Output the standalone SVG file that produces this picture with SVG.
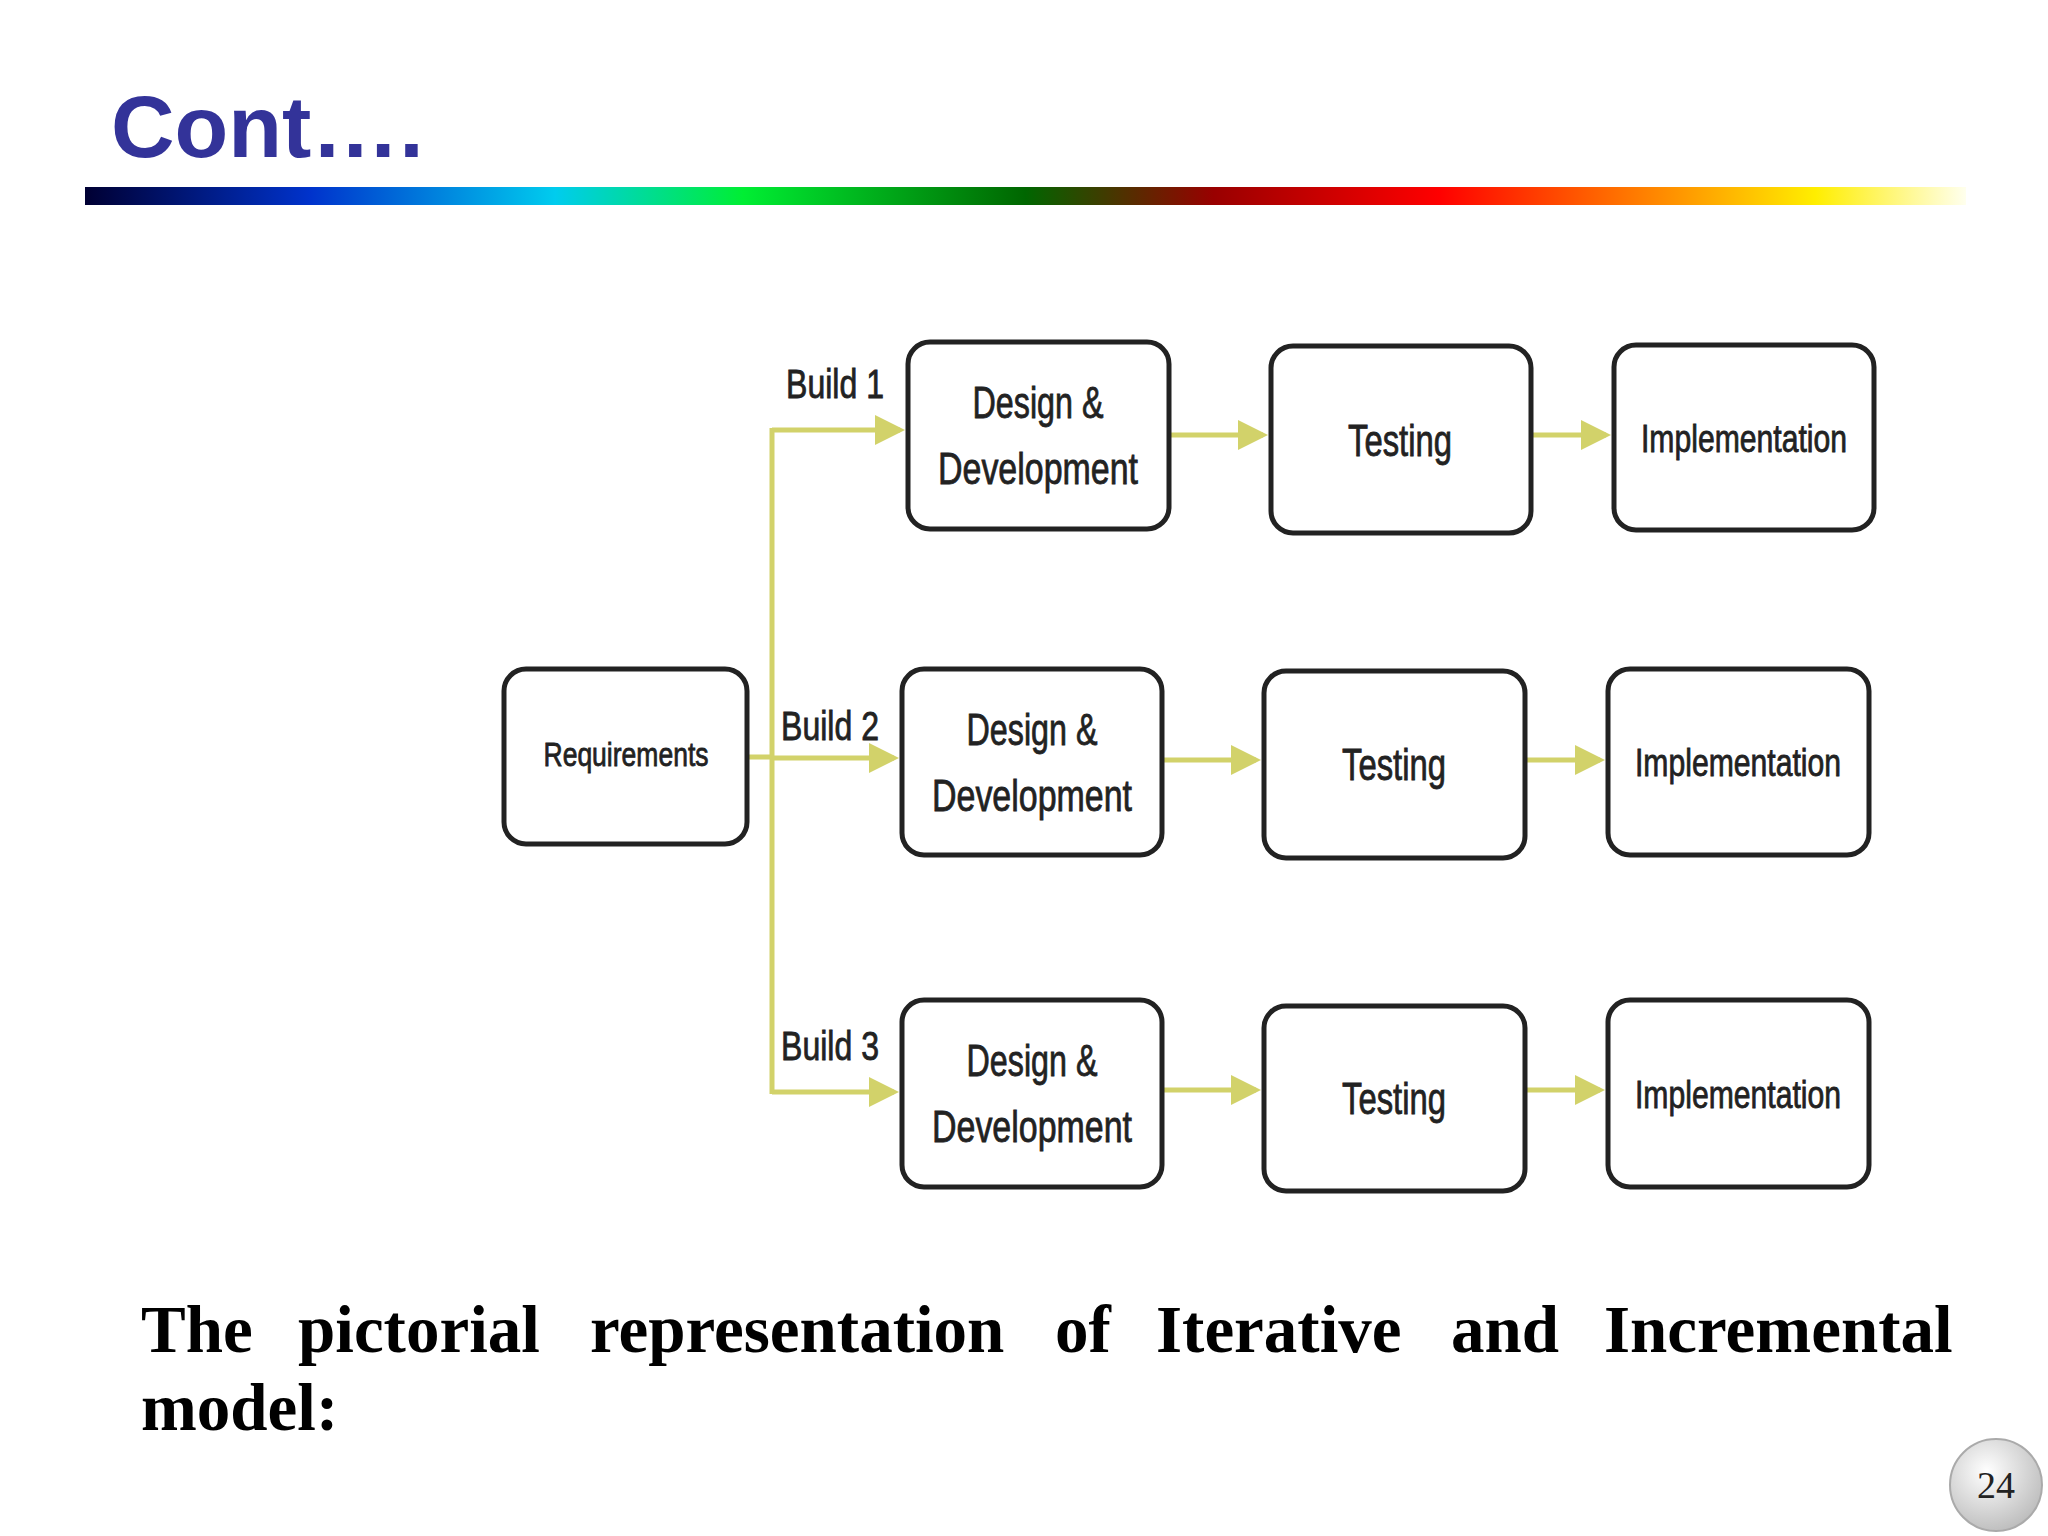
<svg xmlns="http://www.w3.org/2000/svg" width="2048" height="1536" viewBox="0 0 2048 1536">
<defs>
<linearGradient id="bar" x1="0" x2="1" y1="0" y2="0">
<stop offset="0" stop-color="#000033"/><stop offset="0.12" stop-color="#0033cc"/><stop offset="0.25" stop-color="#00ccee"/><stop offset="0.35" stop-color="#00ee33"/><stop offset="0.5" stop-color="#006600"/><stop offset="0.6" stop-color="#990000"/><stop offset="0.72" stop-color="#ff0000"/><stop offset="0.85" stop-color="#ff9900"/><stop offset="0.92" stop-color="#ffee00"/><stop offset="1" stop-color="#ffffee"/>
</linearGradient>
<radialGradient id="pg" cx="0.4" cy="0.35" r="0.7"><stop offset="0" stop-color="#ffffff"/><stop offset="1" stop-color="#bbbbbb"/></radialGradient>
<marker id="ah" markerWidth="6" markerHeight="6" refX="5" refY="3" orient="auto" markerUnits="strokeWidth"><path d="M0,0 L6,3 L0,6 Z" fill="#d2d26a"/></marker>
</defs>
<style>
.box{fill:#fff;stroke:#222;stroke-width:5}
.t{font-family:"Liberation Sans",sans-serif;fill:#222;text-anchor:middle;stroke:#222;stroke-width:0.8}
.c{fill:none;stroke:#d2d26a;stroke-width:5}
.w{font-family:"Liberation Serif",serif;font-weight:bold;font-size:67px;fill:#000}
</style>
<rect width="2048" height="1536" fill="#fff"/>
<text x="111" y="157" font-family="Liberation Sans,sans-serif" font-weight="bold" font-size="88" fill="#333399">Cont….</text>
<rect x="85" y="187" width="1881" height="18" fill="url(#bar)"/>
<g id="connectors">
<path class="c" d="M747,757 H772 M772,428 V1094"/>
<path class="c" d="M772,430 H900" marker-end="url(#ah)"/>
<path class="c" d="M772,758 H894" marker-end="url(#ah)"/>
<path class="c" d="M772,1092 H894" marker-end="url(#ah)"/>
<path class="c" d="M1169,435 H1263" marker-end="url(#ah)"/>
<path class="c" d="M1531,435 H1606" marker-end="url(#ah)"/>
<path class="c" d="M1162,760 H1256" marker-end="url(#ah)"/>
<path class="c" d="M1525,760 H1600" marker-end="url(#ah)"/>
<path class="c" d="M1162,1090 H1256" marker-end="url(#ah)"/>
<path class="c" d="M1525,1090 H1600" marker-end="url(#ah)"/>
</g>
<g class="t" font-size="40">
<text x="786" y="398" text-anchor="start" textLength="98" lengthAdjust="spacingAndGlyphs">Build 1</text>
<text x="781" y="740" text-anchor="start" textLength="98" lengthAdjust="spacingAndGlyphs">Build 2</text>
<text x="781" y="1060" text-anchor="start" textLength="98" lengthAdjust="spacingAndGlyphs">Build 3</text>
</g>
<g id="req"><rect class="box" x="504" y="669" width="243" height="175" rx="22"/><text class="t" x="626" y="766" font-size="34" textLength="165" lengthAdjust="spacingAndGlyphs">Requirements</text></g>
<g id="dd1"><rect class="box" x="908" y="342" width="261" height="187" rx="22"/><text class="t" x="1038" y="418" font-size="44" textLength="131" lengthAdjust="spacingAndGlyphs">Design &amp;</text><text class="t" x="1038" y="484" font-size="44" textLength="200" lengthAdjust="spacingAndGlyphs">Development</text></g>
<g id="t1"><rect class="box" x="1271" y="346" width="260" height="187" rx="22"/><text class="t" x="1400" y="456" font-size="44" textLength="104" lengthAdjust="spacingAndGlyphs">Testing</text></g>
<g id="i1"><rect class="box" x="1614" y="345" width="260" height="185" rx="22"/><text class="t" x="1744" y="452" font-size="38" textLength="206" lengthAdjust="spacingAndGlyphs">Implementation</text></g>
<g id="dd2"><rect class="box" x="902" y="669" width="260" height="186" rx="22"/><text class="t" x="1032" y="745" font-size="44" textLength="131" lengthAdjust="spacingAndGlyphs">Design &amp;</text><text class="t" x="1032" y="811" font-size="44" textLength="200" lengthAdjust="spacingAndGlyphs">Development</text></g>
<g id="t2"><rect class="box" x="1264" y="671" width="261" height="187" rx="22"/><text class="t" x="1394" y="780" font-size="44" textLength="104" lengthAdjust="spacingAndGlyphs">Testing</text></g>
<g id="i2"><rect class="box" x="1608" y="669" width="261" height="186" rx="22"/><text class="t" x="1738" y="776" font-size="38" textLength="206" lengthAdjust="spacingAndGlyphs">Implementation</text></g>
<g id="dd3"><rect class="box" x="902" y="1000" width="260" height="187" rx="22"/><text class="t" x="1032" y="1076" font-size="44" textLength="131" lengthAdjust="spacingAndGlyphs">Design &amp;</text><text class="t" x="1032" y="1142" font-size="44" textLength="200" lengthAdjust="spacingAndGlyphs">Development</text></g>
<g id="t3"><rect class="box" x="1264" y="1006" width="261" height="185" rx="22"/><text class="t" x="1394" y="1114" font-size="44" textLength="104" lengthAdjust="spacingAndGlyphs">Testing</text></g>
<g id="i3"><rect class="box" x="1608" y="1000" width="261" height="187" rx="22"/><text class="t" x="1738" y="1108" font-size="38" textLength="206" lengthAdjust="spacingAndGlyphs">Implementation</text></g>
<text class="w" y="1352"><tspan x="141">The</tspan> <tspan x="298">pictorial</tspan> <tspan x="590">representation</tspan> <tspan x="1055">of</tspan> <tspan x="1156">Iterative</tspan> <tspan x="1451">and</tspan> <tspan x="1604">Incremental</tspan></text>
<text class="w" x="141" y="1430">model:</text>
<circle cx="1996" cy="1485" r="46" fill="url(#pg)" stroke="#aaa" stroke-width="2"/>
<text x="1996" y="1498" text-anchor="middle" font-family="Liberation Serif,serif" font-size="38" fill="#222">24</text>
</svg>
